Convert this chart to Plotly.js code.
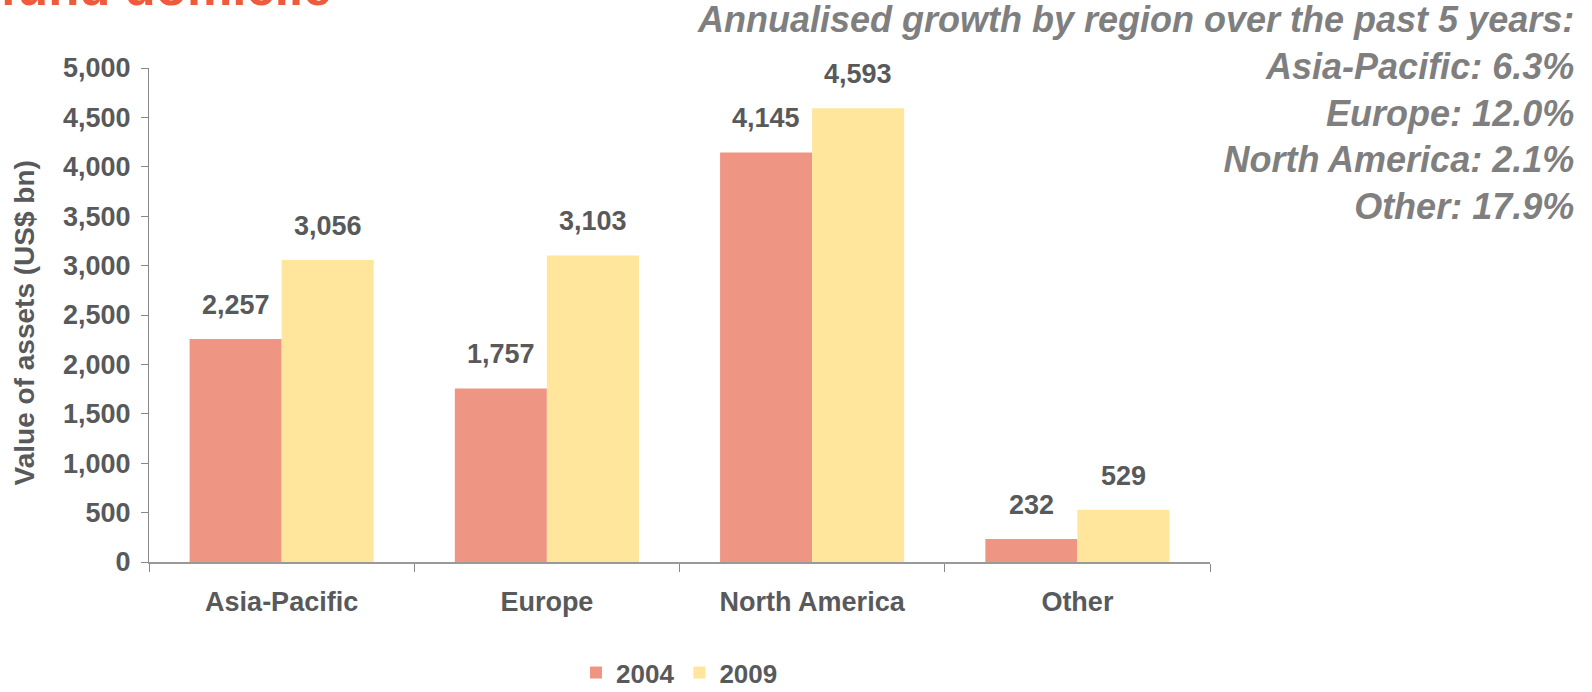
<!DOCTYPE html>
<html>
<head>
<meta charset="utf-8">
<script src="https://cdn.plot.ly/plotly-3.0.1.min.js"></script>
<style>
  html, body { margin: 0; padding: 0; background: #fff; }
  #chart { width: 1592px; height: 692px; }
</style>
</head>
<body>
<div id="chart"></div>
<script>
const regions = ['Asia-Pacific', 'Europe', 'North America', 'Other'];
const seriesNames = ['2004', '2009'];
const values2004 = [2257, 1757, 4145, 232];
const values2009 = [3056, 3103, 4593, 529];
const growth = ['Asia-Pacific: 6.3%', 'Europe: 12.0%', 'North America: 2.1%', 'Other: 17.9%'];

const textGrey = '#58595b';
const fam = 'Liberation Sans, Arial, sans-serif';

function fmt(v) {
    return v.toLocaleString('en-US');
}

const traces = [
    {
        type: 'bar', name: '<b>' + seriesNames[0] + '</b>', x: regions, y: values2004,
        marker: { color: '#EE9584' }
    },
    {
        type: 'bar', name: '<b>' + seriesNames[1] + '</b>', x: regions, y: values2009,
        marker: { color: '#FFE69C' }
    }
];

// value labels sit a little above each bar
const annotations = [];
regions.forEach((r, i) => {
    [[values2004, -46], [values2009, 46]].forEach(([vals, dx]) => {
        annotations.push({
            x: r, y: vals[i], xref: 'x', yref: 'y', text: '<b>' + fmt(vals[i]) + '</b>',
            showarrow: false, xshift: dx, yshift: 17, yanchor: 'bottom',
            font: { family: fam, size: 27, color: textGrey }
        });
    });
});

annotations.push({
    xref: 'paper', yref: 'paper', x: 1.345, y: 1.143, xanchor: 'right', yanchor: 'top',
    align: 'right', showarrow: false,
    text: '<b><i>Annualised growth by region over the past 5 years:<br>' + growth.join('<br>') + '</i></b>',
    font: { family: fam, size: 36, color: '#7f7f7f' }
});

// page heading, cut off by the top edge
annotations.push({
    xref: 'paper', yref: 'paper', x: -0.142, y: 1.102, xanchor: 'left', yanchor: 'bottom',
    showarrow: false, text: '<b>fund domicile</b>',
    font: { family: fam, size: 51, color: '#EF5A3C' }
});

const layout = {
    width: 1592, height: 692,
    margin: { l: 149, r: 382, t: 68, b: 130 },
    paper_bgcolor: '#fff', plot_bgcolor: '#fff',
    font: { family: fam, size: 25, color: textGrey },
    barmode: 'group', bargap: 0.306, bargroupgap: 0,
    showlegend: true,
    legend: {
        orientation: 'h', xref: 'paper', x: 0.5, xanchor: 'center',
        yref: 'container', y: 0.028, yanchor: 'middle',
        font: { family: fam, size: 26, color: textGrey }, itemwidth: 30
    },
    xaxis: {
        type: 'category', tickson: 'boundaries', ticks: 'outside', ticklen: 8,
        tickcolor: '#888', showline: true, linecolor: '#999', linewidth: 1.5,
        showgrid: false, ticklabelstandoff: 15, automargin: false,
        tickfont: { family: fam, size: 27, color: textGrey },
        tickprefix: '<b>', ticksuffix: '</b>'
    },
    yaxis: {
        range: [0, 5000], dtick: 500, tickformat: ',d', ticks: 'outside', ticklen: 7,
        tickcolor: '#888', showline: true, linecolor: '#888', linewidth: 1,
        showgrid: false, zeroline: false, automargin: false, ticklabelstandoff: 5,
        tickfont: { family: fam, size: 27, color: textGrey },
        tickprefix: '<b>', ticksuffix: '</b>',
        title: { text: '<b>Value of assets (US$ bn)&nbsp;&nbsp;</b>', standoff: 20, font: { family: fam, size: 28, color: textGrey } }
    },
    annotations: annotations
};

Plotly.newPlot('chart', traces, layout, { displayModeBar: false, staticPlot: true });
</script>
</body>
</html>
